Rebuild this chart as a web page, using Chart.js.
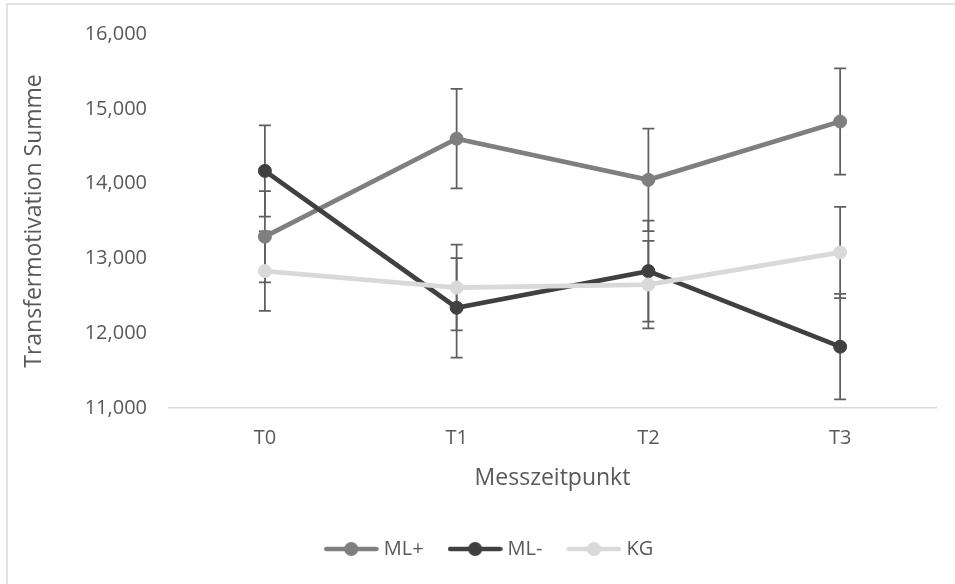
<!DOCTYPE html>
<html>
<head>
<meta charset="utf-8">
<script src="https://cdn.jsdelivr.net/npm/chart.js@4/dist/chart.umd.min.js"></script>
<style>
  html, body { margin: 0; padding: 0; background: #ffffff; }
  #wrap { position: relative; width: 955px; height: 584px; }
  canvas { display: block; }
</style>
</head>
<body>
<div id="wrap"><canvas id="c" width="955" height="584"></canvas></div>
<script>
// ---- data ----
const categories = ['T0', 'T1', 'T2', 'T3'];
const seriesNames = ['ML+', 'ML-', 'KG'];
const mlPlus = [13.29, 14.60, 14.05, 14.83];
const mlPlusErr = [0.61, 0.665, 0.684, 0.71];
const mlMinus = [14.17, 12.34, 12.83, 11.82];
const mlMinusErr = [0.61, 0.665, 0.675, 0.705];
const kg = [12.83, 12.61, 12.65, 13.08];
const kgErr = [0.53, 0.573, 0.585, 0.61];
const yTickValues = [11, 12, 13, 14, 15, 16];
const yTickLabels = ['11,000', '12,000', '13,000', '14,000', '15,000', '16,000'];
const yTitle = 'Transfermotivation Summe';
const xTitle = 'Messzeitpunkt';

const colors = ['#7f7f7f', '#404040', '#d9d9d9'];
const FONT = "'Open Sans', sans-serif";
const TEXT = '#595959';

function legendSymbol(color) {
  const c = document.createElement('canvas');
  c.width = 55; c.height = 16;
  const g = c.getContext('2d');
  g.strokeStyle = color; g.lineWidth = 4.7; g.lineCap = 'round';
  g.beginPath(); g.moveTo(2.5, 8); g.lineTo(52.5, 8); g.stroke();
  g.fillStyle = color;
  g.beginPath(); g.arc(27.5, 8, 7, 0, Math.PI * 2); g.fill();
  return c;
}

const errorBars = {
  id: 'errorBars',
  beforeDatasetsDraw(chart) {
    const ctx = chart.ctx;
    const ys = chart.scales.y;
    ctx.save();
    ctx.strokeStyle = '#5f5f5f';
    ctx.lineWidth = 1.75;
    chart.data.datasets.forEach((ds, di) => {
      const meta = chart.getDatasetMeta(di);
      meta.data.forEach((pt, i) => {
        const v = ds.data[i], e = ds.errors[i];
        const x = pt.x;
        const y1 = ys.getPixelForValue(v + e);
        const y2 = ys.getPixelForValue(v - e);
        ctx.beginPath();
        ctx.moveTo(x, y1); ctx.lineTo(x, y2);
        ctx.moveTo(x - 6, y1); ctx.lineTo(x + 6, y1);
        ctx.moveTo(x - 6, y2); ctx.lineTo(x + 6, y2);
        ctx.stroke();
      });
    });
    ctx.restore();
  }
};

const frame = {
  id: 'frame',
  beforeDraw(chart) {
    const ctx = chart.ctx;
    ctx.save();
    ctx.fillStyle = '#ffffff';
    ctx.fillRect(0, 0, chart.width, chart.height);
    ctx.strokeStyle = '#d9d9d9';
    ctx.lineWidth = 1.5;
    ctx.beginPath();
    ctx.moveTo(7, chart.height + 2); ctx.lineTo(7, 4); ctx.lineTo(chart.width + 2, 4);
    ctx.stroke();
    ctx.restore();
  }
};

const seriesData = [mlPlus, mlMinus, kg];
const seriesErr = [mlPlusErr, mlMinusErr, kgErr];
const datasets = seriesNames.map((name, i) => ({
  label: name,
  data: seriesData[i],
  errors: seriesErr[i],
  borderColor: colors[i],
  backgroundColor: colors[i],
  pointBackgroundColor: colors[i],
  pointBorderColor: colors[i],
  borderWidth: 4.7,
  pointRadius: 6.5,
  pointBorderWidth: 1,
  pointHoverRadius: 6.5,
  tension: 0,
  order: 3 - i
}));

new Chart(document.getElementById('c'), {
  type: 'line',
  data: { labels: categories, datasets },
  plugins: [frame, errorBars],
  options: {
    responsive: false,
    animation: false,
    events: [],
    layout: { padding: { left: 46, right: 19, top: 33, bottom: 15 } },
    plugins: {
      tooltip: { enabled: false },
      legend: {
        position: 'bottom',
        align: 'center',
        labels: {
          usePointStyle: true,
          pointStyleWidth: 45,
          padding: 29,
          color: TEXT,
          font: { family: FONT, size: 20 },
          generateLabels(chart) {
            return chart.data.datasets.map((ds, i) => ({
              text: ds.label,
              pointStyle: legendSymbol(colors[i]),
              fillStyle: colors[i],
              strokeStyle: colors[i],
              lineWidth: 0,
              hidden: false,
              datasetIndex: i,
              fontColor: TEXT
            }));
          }
        }
      }
    },
    scales: {
      x: {
        offset: true,
        grid: { display: false, drawTicks: false, tickLength: 0 },
        border: { display: true, color: '#d9d9d9', width: 1.5 },
        ticks: { color: TEXT, font: { family: FONT, size: 20 }, padding: 18 },
        title: { display: true, text: xTitle, color: TEXT, font: { family: FONT, size: 23 }, padding: { top: 0, bottom: 18 } },
        afterFit(s) { s.height = 102; }
      },
      y: {
        min: 11, max: 16,
        grid: { display: false, drawTicks: false, tickLength: 0 },
        border: { display: false },
        afterBuildTicks(s) { s.ticks = yTickValues.map(v => ({ value: v })); },
        ticks: {
          color: TEXT, font: { family: FONT, size: 20 }, padding: 22,
          callback(v) { const k = yTickValues.indexOf(v); return k >= 0 ? yTickLabels[k] : ''; }
        },
        title: { display: true, text: yTitle, color: TEXT, font: { family: FONT, size: 23 }, padding: { top: -25, bottom: 0 } },
        afterFit(s) { s.width = 123; }
      }
    }
  }
});
</script>
</body>
</html>
